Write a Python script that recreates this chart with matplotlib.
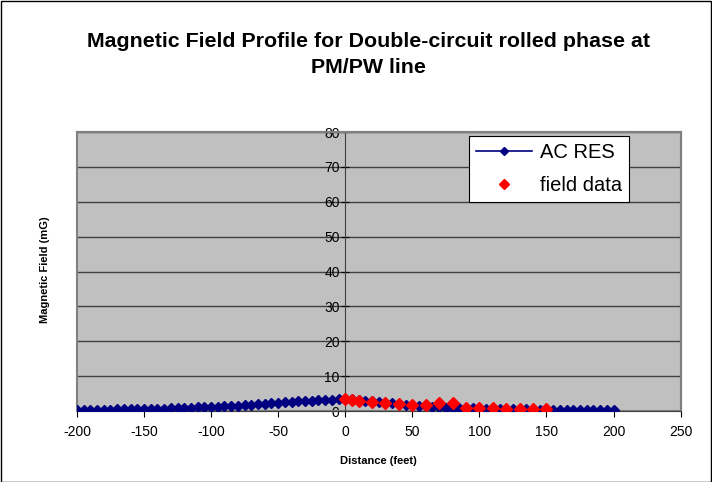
import numpy as np
import matplotlib.pyplot as plt
from matplotlib.patches import Rectangle

# data
dist = list(range(-200, 205, 5))
ac_res = [0.35, 0.37, 0.39, 0.41, 0.43, 0.45, 0.48, 0.51, 0.54, 0.57,
          0.61, 0.65, 0.69, 0.74, 0.79, 0.85, 0.91, 0.98, 1.05, 1.13,
          1.21, 1.30, 1.40, 1.50, 1.61, 1.72, 1.84, 1.97, 2.10, 2.23,
          2.37, 2.50, 2.64, 2.77, 2.90, 3.02, 3.13, 3.23, 3.32, 3.39,
          3.43,
          3.35, 3.20, 3.00, 2.80, 2.60, 2.40, 2.20, 2.00, 1.80, 1.65,
          1.50, 1.37, 1.25, 1.14, 1.04, 0.96, 0.89, 0.83, 0.77, 0.72,
          0.68, 0.64, 0.61, 0.58, 0.55, 0.52, 0.50, 0.48, 0.46, 0.44,
          0.42, 0.41, 0.39, 0.38, 0.37, 0.36, 0.35, 0.34, 0.33, 0.32]
field_x = [0, 5, 10, 20, 30, 40, 50, 60, 70, 80, 90, 100, 110, 120, 130, 140, 150]
field_y = [3.5, 3.1, 3.0, 2.6, 2.2, 2.0, 1.7, 1.7, 2.4, 2.2, 0.9, 0.8, 0.8, 0.6, 0.6, 0.6, 0.6]

plt.rcParams['font.family'] = ['Liberation Sans', 'DejaVu Sans']
plt.rcParams['axes.unicode_minus'] = False

fig = plt.figure(figsize=(7.12, 4.82), dpi=100)
ax = fig.add_axes([0.108, 0.147, 0.848, 0.579])
ax.set_facecolor('#c0c0c0')

ax.plot(dist, ac_res, color='#000080', lw=1.2, marker='D', markersize=5,
        label='AC RES', zorder=3)
ax.plot(field_x, field_y, color='#ff0000', lw=0, marker='D', markersize=6,
        label='field data', zorder=4)

ax.set_xlim(-200, 250)
ax.set_ylim(0, 80)
ax.set_xticks(np.arange(-200, 251, 50))
ax.set_yticks(np.arange(0, 81, 10))
ax.grid(axis='y', color='#404040', lw=1)
ax.set_axisbelow(True)

ax.spines['left'].set_position(('data', 0))
ax.spines['left'].set_color('#404040')
ax.spines['bottom'].set_color('#404040')
ax.spines['top'].set_color('#808080')
ax.spines['right'].set_color('#808080')
ax.spines['top'].set_linewidth(1.5)
ax.spines['right'].set_linewidth(1.5)
ax.add_patch(Rectangle((0, 0), 1, 1, transform=ax.transAxes, fill=False,
                       edgecolor='#808080', lw=1.5, zorder=1, clip_on=False))

ax.tick_params(axis='y', direction='inout', length=6, labelsize=10, pad=1)
ax.tick_params(axis='x', direction='out', length=4, labelsize=10, pad=6)

ax.set_xlabel('Distance (feet)', fontsize=8, fontweight='bold', labelpad=12)
fig.text(0.063, 0.44, 'Magnetic Field (mG)', rotation=90, fontsize=8,
         fontweight='bold', ha='center', va='center')

fig.suptitle('Magnetic Field Profile for Double-circuit rolled phase at\nPM/PW line',
             x=0.517, y=0.933, fontsize=15.4, fontweight='bold', linespacing=1.45)

leg = ax.legend(loc='upper right', bbox_to_anchor=(0.915, 0.985), fontsize=14.5,
                frameon=True, fancybox=False, framealpha=1, borderpad=0.35,
                labelspacing=0.7, handlelength=2.8, handletextpad=0.4,
                borderaxespad=0, markerscale=0.9)
leg.get_frame().set_edgecolor('black')
leg.get_frame().set_linewidth(0.8)

fig.patches.append(Rectangle((0.001, 0.0), 0.998, 0.998, transform=fig.transFigure,
                             fill=False, edgecolor='black', lw=1))

fig.savefig('out.png', dpi=100)
